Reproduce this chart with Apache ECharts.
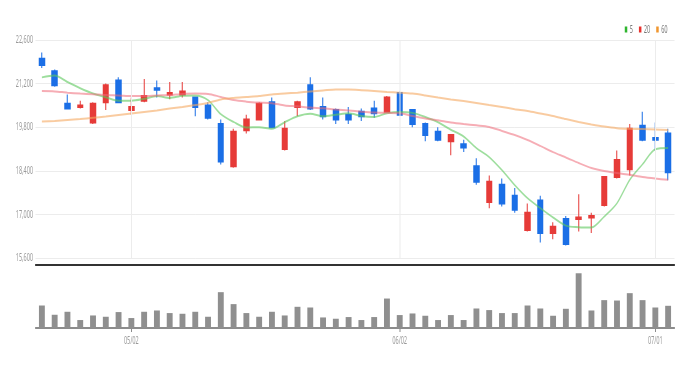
<!DOCTYPE html>
<html><head><meta charset="utf-8">
<script src="https://cdn.jsdelivr.net/npm/echarts@6/dist/echarts.min.js"></script>
<style>
html,body{margin:0;padding:0;overflow:hidden;background:#fff;}
#wrap{width:689px;height:369px;overflow:hidden;position:relative;}
#c{width:1378px;height:369px;transform:scaleX(0.5);transform-origin:0 0;}
</style></head><body><div id="wrap"><div id="c"></div></div>
<script>
// ---- data ----
const dates = ['04/21','04/22','04/25','04/26','04/27','04/28','04/29','05/02','05/03','05/04',
  '05/06','05/09','05/10','05/11','05/12','05/13','05/16','05/17','05/18','05/19',
  '05/20','05/23','05/24','05/25','05/26','05/27','05/30','05/31','06/02','06/03',
  '06/07','06/08','06/09','06/10','06/13','06/14','06/15','06/16','06/17','06/20',
  '06/21','06/22','06/23','06/24','06/27','06/28','06/29','06/30','07/01','07/04'];
// [open, close, low, high]
const ohlc = [
  [22000,21800,21700,22200],[21600,21150,21100,21650],[20550,20400,20400,20850],[20450,20500,20400,20650],
  [19950,20550,19900,20600],[20600,21150,20350,21200],[21300,20600,20600,21400],[20350,20450,20200,20750],
  [20650,20800,20600,21350],[21050,21000,20750,21300],[20850,20900,20700,21250],[20850,20950,20750,21250],
  [20750,20450,20150,20750],[20500,20100,20050,20600],[19900,18700,18600,20050],[18550,19650,18500,19750],
  [19700,20050,19600,20200],[20050,20550,20050,20600],[20600,19800,19800,20750],[19100,19750,19050,20000],
  [20450,20600,20150,20650],[21150,20400,20350,21400],[20450,20150,20050,20750],[20350,20050,19900,20400],
  [20200,20050,19900,20450],[20300,20150,20000,20400],[20400,20250,20100,20650],[20300,20750,20300,20800],
  [20900,20200,20200,20950],[20350,19900,19800,20350],[19900,19550,19350,19950],[19650,19400,19350,19800],
  [19350,19550,18900,19550],[19250,19150,19000,19400],[18550,18050,17950,18800],[17400,18050,17200,18250],
  [17950,17350,17250,18150],[17600,17150,17050,17850],[16500,17050,16450,17350],[17450,16400,16100,17600],
  [16400,16600,16200,16750],[16850,16050,16000,16950],[16850,16900,16450,17650],[16900,16950,16400,17050],
  [17300,18200,17250,18200],[18200,18750,18150,19050],[18450,19750,18250,19900],[19850,19400,19350,20300],
  [19450,19400,19050,19950],[19600,18350,18100,19750]];
const ma5 = [21400,21460,21250,21050,20880,20760,20650,20650,20710,20800,
  20740,20810,20820,20670,20220,19970,19790,19800,19750,19960,
  20150,20230,20150,20200,20250,20160,20130,20250,20290,20260,
  20130,19960,19720,19500,19130,18840,18420,17940,17520,17200,
  16900,16640,16590,16580,16930,17360,18110,18610,19090,19130];
const ma20 = [20960,20950,20910,20880,20860,20830,20820,20800,20800,20820,
  20830,20870,20880,20870,20770,20670,20620,20590,20570,20500,
  20470,20430,20410,20370,20340,20300,20270,20260,20250,20160,
  20080,20020,19950,19900,19860,19810,19680,19550,19390,19200,
  19000,18830,18650,18490,18390,18330,18270,18200,18150,18110];
const ma60 = [19980,20000,20030,20060,20100,20140,20190,20240,20290,20340,
  20400,20450,20510,20580,20690,20740,20770,20800,20850,20880,
  20910,20950,20980,21010,21010,20990,20960,20930,20910,20880,
  20820,20750,20690,20640,20580,20510,20450,20380,20320,20240,
  20160,20060,19970,19890,19820,19770,19750,19740,19730,19710];
const volume = [452000,266000,326000,160000,252000,226000,320000,200000,326000,352000,
  300000,286000,326000,226000,720000,480000,300000,226000,326000,252000,
  426000,412000,212000,186000,220000,160000,220000,592000,260000,292000,
  246000,160000,260000,160000,392000,360000,300000,300000,452000,392000,
  246000,386000,1100000,352000,560000,552000,700000,560000,412000,446000];
const dateLabels = ['05/02','06/02','07/01'];
const priceAxis = {min:15600, max:22600, interval:1400};
const legendNames = ['5','20','60'];

// ---- chart ----
const FONT = 'Noto Sans';
const UP = '#e63b38', DOWN = '#1b6fe6';
const chart = echarts.init(document.getElementById('c'), null, {width:1378, height:369, renderer:'canvas'});
const isLabel = (i, v) => dateLabels.indexOf(v !== undefined ? v : dates[i]) >= 0;
chart.setOption({
  animation:false,
  backgroundColor:'#fff',
  textStyle:{fontFamily:FONT},
  legend:{
    right:38, top:19, itemWidth:5, itemHeight:6, itemGap:12, icon:'rect',
    textStyle:{fontSize:11, color:'#777', fontFamily:FONT},
    data:[
      {name:legendNames[0], itemStyle:{color:'#2fb52f'}},
      {name:legendNames[1], itemStyle:{color:'#e8322e'}},
      {name:legendNames[2], itemStyle:{color:'#f0962f'}}
    ]
  },
  grid:[
    {left:71, right:29, top:40, height:218},
    {left:71, right:29, top:265, height:63}
  ],
  xAxis:[
    {type:'category', gridIndex:0, data:dates, boundaryGap:true,
     axisLine:{show:false}, axisTick:{show:false}, axisLabel:{show:false}, splitLine:{show:false}},
    {type:'category', gridIndex:1, data:dates, boundaryGap:true, position:'bottom',
     axisLine:{show:true, lineStyle:{color:'#8c8c8c', width:2}},
     axisTick:{show:true, alignWithLabel:true, length:4, interval:isLabel, lineStyle:{color:'#8c8c8c', width:2}},
     axisLabel:{show:true, interval:isLabel, color:'#999', fontSize:11, margin:7, fontFamily:FONT},
     splitLine:{show:false}},
    {type:'category', gridIndex:1, data:dates, boundaryGap:true, position:'top',
     axisLine:{show:true, lineStyle:{color:'#333', width:2}},
     axisTick:{show:false}, axisLabel:{show:false}, splitLine:{show:false}}
  ],
  yAxis:[
    {type:'value', gridIndex:0, min:priceAxis.min, max:priceAxis.max, interval:priceAxis.interval,
     axisLine:{show:false}, axisTick:{show:false},
     axisLabel:{color:'#999', fontSize:11, margin:5, fontFamily:FONT,
       formatter:v => v.toLocaleString('en-US')},
     splitLine:{lineStyle:{color:'#ececec', width:1}}},
    {type:'value', gridIndex:1, min:0, max:1266000, show:false, splitLine:{show:false}}
  ],
  series:[
    {type:'candlestick', name:'price', xAxisIndex:0, yAxisIndex:0, data:ohlc, barWidth:'44%',
     itemStyle:{color:UP, color0:DOWN, borderColor:UP, borderColor0:DOWN, borderWidth:2},
     markLine:{silent:true, symbol:['none','none'], label:{show:false},
       lineStyle:{color:'#ececec', width:2, type:'solid'},
       data:dateLabels.map(d => ({xAxis:d}))}},
    {type:'line', name:legendNames[0], xAxisIndex:0, yAxisIndex:0, data:ma5, smooth:0.3,
     showSymbol:false, color:'#2fb52f', lineStyle:{color:'#5cc85c', width:2, opacity:0.6}},
    {type:'line', name:legendNames[1], xAxisIndex:0, yAxisIndex:0, data:ma20, smooth:0.3,
     showSymbol:false, color:'#e8322e', lineStyle:{color:'#ee6a78', width:2, opacity:0.55}},
    {type:'line', name:legendNames[2], xAxisIndex:0, yAxisIndex:0, data:ma60, smooth:0.3,
     showSymbol:false, color:'#f0962f', lineStyle:{color:'#f5a860', width:2, opacity:0.6}},
    {type:'bar', name:'volume', xAxisIndex:1, yAxisIndex:1, data:volume, barWidth:'46%',
     itemStyle:{color:'#8f8f8f'}}
  ]
});
</script></body></html>
